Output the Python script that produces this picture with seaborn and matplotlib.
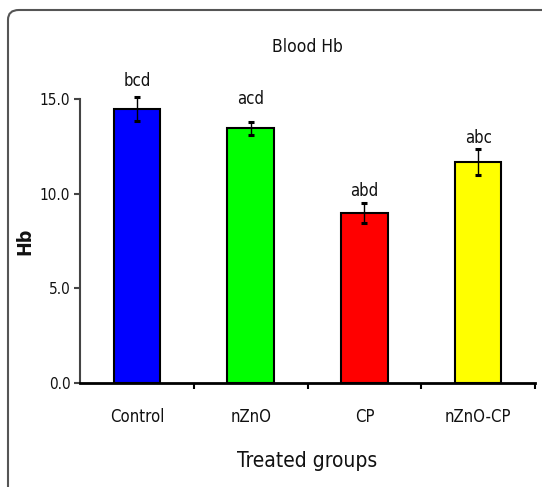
import matplotlib
matplotlib.use("Agg")
import matplotlib.pyplot as plt
from matplotlib.patches import FancyBboxPatch
from matplotlib.ticker import FixedLocator, FormatStrFormatter
import seaborn as sns
import pandas as pd

groups = ["Control", "nZnO", "CP", "nZnO-CP"]
hb_mean = [14.45, 13.45, 8.98, 11.68]
hb_sem = [0.63, 0.35, 0.55, 0.68]
sig_letters = ["bcd", "acd", "abd", "abc"]
bar_colors = ["#0000FF", "#00FF00", "#FF0000", "#FFFF00"]
y_ticks = [0.0, 5.0, 10.0, 15.0]

sns.set_theme(style="white")
plt.rcParams["font.family"] = ["DejaVu Sans"]
plt.rcParams["font.stretch"] = "condensed"
plt.rcParams["text.color"] = "#111111"

df = pd.DataFrame({"group": groups, "hb": hb_mean})

fig = plt.figure(figsize=(5.42, 4.87), dpi=100)
ax = fig.add_axes([80 / 542, 104 / 487, 455 / 542, 284 / 487])

sns.barplot(data=df, x="group", y="hb", hue="group", palette=bar_colors,
            order=groups, hue_order=groups, width=0.41, errorbar=None,
            saturation=1, edgecolor="black", linewidth=1.5, legend=False, ax=ax)

ax.errorbar(range(len(groups)), hb_mean, yerr=hb_sem, fmt="none",
            ecolor="black", elinewidth=1.0, capsize=2.3, capthick=2.2,
            clip_on=False, zorder=5)

# significance letters above each error bar (offsets in points)
label_offsets = [8, 13, 5, 4.5]
for i, (m, s, txt, off) in enumerate(zip(hb_mean, hb_sem, sig_letters, label_offsets)):
    ax.annotate(txt, xy=(i, m + s), xytext=(0, off), textcoords="offset points",
                ha="center", va="baseline", fontsize=12, color="#111111",
                annotation_clip=False)

ax.set_xlim(-0.5, 3.5)
ax.set_ylim(0, 15)
ax.set_yticks(y_ticks)
ax.yaxis.set_major_formatter(FormatStrFormatter("%.1f"))
ax.xaxis.set_minor_locator(FixedLocator([0.5, 1.5, 2.5, 3.5]))

for side in ["top", "right"]:
    ax.spines[side].set_visible(False)
ax.spines["left"].set_color("#444444")
ax.spines["left"].set_linewidth(1.5)
ax.spines["bottom"].set_color("black")
ax.spines["bottom"].set_linewidth(2.0)

ax.tick_params(axis="y", which="major", direction="out", length=4, width=1.5,
               color="#444444", labelsize=11, pad=3, left=True,
               labelcolor="#111111")
ax.tick_params(axis="x", which="major", length=0, labelsize=12, pad=18,
               labelcolor="#111111")
ax.tick_params(axis="x", which="minor", direction="out", length=4, width=1.5,
               color="black", bottom=True)

ax.set_xlabel("Treated groups", fontsize=15, labelpad=18, color="#111111")
ax.set_ylabel("Hb", fontsize=14, labelpad=4, fontweight="bold", color="#111111")
ax.set_title("Blood Hb", fontsize=12.5, pad=34, color="#111111")

# rounded outer frame
frame = FancyBboxPatch((8 / 542, -0.05), 1.2, 1.05 - 10 / 487,
                       boxstyle="round,pad=0,rounding_size=0.02",
                       transform=fig.transFigure, fill=False,
                       edgecolor="#555555", linewidth=1.5, clip_on=False)
fig.patches.append(frame)

fig.savefig("out.png", dpi=100)
